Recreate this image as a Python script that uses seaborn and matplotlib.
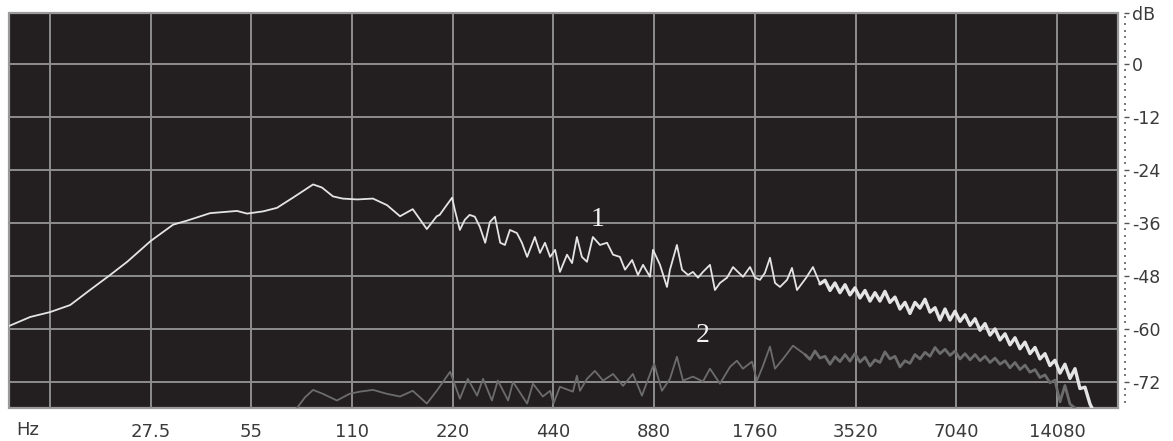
import matplotlib
matplotlib.use("Agg")
import matplotlib.pyplot as plt
import matplotlib.ticker as mticker
import pandas as pd
import seaborn as sns

# ---------------------------------------------------------------------------
# Spectrum data: frequency in Hz, level in dB
# ---------------------------------------------------------------------------
# Trace 1 – low/mid band
freq_1_low = [10.4, 12.0, 13.75, 15.8, 18.1, 20.8, 23.4, 27.5,
              32.1, 35.3, 41.4, 49.8, 53.4, 59.6, 65.6, 73.2,
              84.1, 89.4, 96.4, 103, 114, 127, 140, 153,
              167, 184, 197, 201, 209, 219, 223, 231,
              239, 247, 256, 265, 275, 284, 294, 305,
              315, 326, 342, 354, 367, 387, 401, 415,
              430, 445, 460, 483, 500, 517, 535, 554,
              577, 606, 636, 663, 695, 720, 756, 787,
              815, 855, 873, 916, 961, 981, 1029, 1066,
              1111, 1149, 1190, 1231, 1292, 1337, 1384, 1453,
              1514, 1566, 1622, 1702, 1761, 1823, 1886, 1953,
              2022, 2092, 2196, 2272, 2352, 2501, 2625, 2755]
level_1_low = [-59.3, -57.3, -56.2, -54.6, -51.2, -47.8, -44.8, -40.1,
               -36.4, -35.5, -33.8, -33.3, -33.9, -33.4, -32.6, -30.3,
               -27.3, -28.0, -30.0, -30.5, -30.7, -30.5, -32.0, -34.5,
               -32.9, -37.4, -34.5, -34.2, -32.4, -30.3, -33.0, -37.6,
               -35.3, -34.2, -34.6, -36.9, -40.5, -35.8, -34.6, -40.5,
               -41.0, -37.6, -38.3, -40.5, -43.7, -39.2, -42.8, -40.5,
               -43.7, -42.1, -47.1, -43.2, -45.1, -39.2, -43.7, -44.8,
               -39.2, -41.0, -40.5, -43.2, -43.7, -46.6, -44.4, -47.8,
               -45.5, -48.2, -42.1, -45.5, -50.5, -46.6, -41.0, -46.6,
               -47.8, -47.1, -48.4, -47.1, -45.5, -51.2, -49.6, -48.4,
               -46.0, -47.1, -48.2, -46.0, -48.4, -48.9, -47.3, -43.9,
               -49.6, -50.5, -48.9, -46.2, -51.2, -48.5, -46.0, -49.8]

# Trace 1 – high band
freq_1_high = [2755, 2852, 2952, 3054, 3161, 3274, 3386, 3505, 3629, 3756, 3887,
               4023, 4162, 4308, 4459, 4616, 4778, 4946, 5118, 5298, 5485,
               5676, 5875, 6082, 6293, 6515, 6742, 6978, 7224, 7477, 7740,
               8011, 8289, 8580, 8882, 9190, 9512, 9846, 10189, 10546, 10916,
               11297, 11693, 12104, 12522, 12963, 13413, 13883, 14376, 14873, 15397,
               15938, 16492, 17075, 17674, 17919]
level_1_high = [-49.8, -49.0, -51.3, -49.6, -51.8, -50.0, -52.3, -50.7, -53.0, -51.3, -53.7,
                -51.8, -53.7, -51.5, -54.0, -52.8, -55.5, -54.0, -56.5, -54.0, -55.3,
                -53.3, -56.2, -55.2, -58.0, -55.5, -58.0, -56.0, -58.3, -56.8, -59.2,
                -57.7, -60.3, -58.8, -61.4, -60.0, -62.5, -61.1, -63.6, -62.0, -64.5,
                -63.0, -65.6, -64.2, -66.8, -65.6, -68.3, -67.1, -70.0, -68.0, -71.2,
                -69.0, -73.5, -73.2, -77.0, -77.9]

# Trace 2 – low/mid band
freq_2_low = [75.3, 79.5, 84.1, 90.0, 99.1, 108, 116, 127,
              140, 153, 167, 184, 197, 216, 231, 244,
              260, 271, 288, 300, 322, 333, 367, 382,
              409, 430, 440, 460, 503, 517, 528, 554,
              585, 619, 663, 710, 760, 809, 867, 880,
              928, 981, 1029, 1073, 1149, 1231, 1292, 1384,
              1483, 1555, 1621, 1725, 1786, 1860, 1953, 2021,
              2136, 2288, 2486]
level_2_low = [-77.9, -75.5, -73.8, -74.7, -76.2, -74.7, -74.2, -73.8,
               -74.7, -75.3, -74.0, -76.9, -74.0, -69.7, -75.8, -71.3,
               -75.1, -71.3, -76.2, -71.7, -76.2, -72.0, -76.9, -72.4,
               -75.3, -74.0, -76.9, -73.1, -74.2, -70.6, -74.0, -71.3,
               -69.5, -71.7, -70.2, -72.9, -70.2, -75.1, -69.0, -67.9,
               -74.0, -71.3, -66.3, -71.7, -70.8, -71.9, -69.0, -72.4,
               -68.6, -67.2, -69.0, -67.4, -71.7, -68.4, -64.0, -69.0,
               -66.8, -63.8, -65.8]

# Trace 2 – high band
freq_2_high = [2486, 2572, 2662, 2754, 2852, 2952, 3054, 3161, 3274, 3386,
               3505, 3629, 3756, 3887, 4023, 4162, 4308, 4459, 4616, 4778,
               4946, 5118, 5298, 5485, 5676, 5875, 6082, 6293, 6515, 6742,
               6978, 7224, 7477, 7740, 8011, 8289, 8580, 8882, 9190, 9512,
               9846, 10189, 10546, 10916, 11297, 11693, 12104, 12522, 12963, 13413,
               13883, 14376, 14873, 15397, 15938]
level_2_high = [-65.8, -66.9, -65.0, -66.6, -66.2, -68.0, -66.3, -67.4, -65.8, -67.3,
                -65.6, -67.5, -66.4, -68.4, -67.0, -67.6, -65.2, -66.8, -66.2, -68.6,
                -67.2, -67.8, -65.8, -66.8, -65.3, -66.2, -64.2, -65.6, -64.6, -66.0,
                -65.0, -66.8, -65.6, -67.0, -65.8, -67.2, -66.2, -67.6, -66.6, -68.0,
                -67.2, -68.8, -67.6, -69.2, -68.2, -69.8, -69.2, -71.0, -70.4, -72.2,
                -71.6, -76.5, -72.8, -77.0, -77.9]

# Axis annotation
octave_freqs = [13.75, 27.5, 55, 110, 220, 440, 880, 1760, 3520, 7040, 14080]
octave_labels = ["", "27.5", "55", "110", "220", "440", "880", "1760",
                 "3520", "7040", "14080"]
db_ticks = [11.5, 0, -12, -24, -36, -48, -60, -72]
db_labels = ["dB", "0", "-12", "-24", "-36", "-48", "-60", "-72"]

# ---------------------------------------------------------------------------
traces = [
    (pd.DataFrame({"freq": freq_1_low, "level": level_1_low}), "#e4e4e4", 1.3, 3),
    (pd.DataFrame({"freq": freq_1_high, "level": level_1_high}), "#e4e4e4", 2.4, 3),
    (pd.DataFrame({"freq": freq_2_low, "level": level_2_low}), "#6c6c6c", 1.3, 4),
    (pd.DataFrame({"freq": freq_2_high, "level": level_2_high}), "#6c6c6c", 2.0, 4),
]

sns.set_style("dark")
plt.rcParams["font.family"] = ["DejaVu Sans"]
plt.rcParams["axes.unicode_minus"] = False

W, H = 1173, 441
fig = plt.figure(figsize=(W / 100, H / 100), dpi=100, facecolor="white")
ax = fig.add_axes([9 / W, 33 / H, 1109 / W, 395 / H])
ax.set_facecolor("#231f20")
ax.patch.set_edgecolor("#9a9a9a")
ax.patch.set_linewidth(1.6)

ax.set_xscale("log", base=2)
ax.set_xlim(10.37, 21430)
ax.set_ylim(-77.9, 11.5)

grid_kw = dict(color="#8e8e8e", linewidth=1.4, zorder=1)
for f in octave_freqs:
    ax.axvline(f, **grid_kw)
for d in db_ticks[1:]:
    ax.axhline(d, **grid_kw)

for df, color, lw, z in traces:
    sns.lineplot(data=df, x="freq", y="level", ax=ax, color=color,
                 linewidth=lw, estimator=None, sort=False, zorder=z)

ax.text(594, -35.3, "1", color="#f2f2f2", fontsize=20, ha="center",
        va="center", family=["Liberation Serif", "DejaVu Serif"], zorder=5)
ax.text(1231, -61.4, "2", color="#f2f2f2", fontsize=20, ha="center",
        va="center", family=["Liberation Serif", "DejaVu Serif"], zorder=5)

# Spines hidden; the ticks sit slightly away from the frame
for side, spine in ax.spines.items():
    spine.set_visible(False)
ax.spines["right"].set_position(("outward", 4.3))
ax.spines["bottom"].set_position(("outward", 3.0))

ax.yaxis.tick_right()
ax.yaxis.set_major_locator(mticker.FixedLocator(db_ticks))
ax.yaxis.set_major_formatter(mticker.FixedFormatter(db_labels))
ax.yaxis.set_minor_locator(mticker.MultipleLocator(1.5))
ax.tick_params(axis="y", which="major", direction="out", length=3.6, width=1.0,
               color="#555555", labelsize=12.5, labelcolor="#3a3a3a", pad=2,
               right=True, left=False)
ax.tick_params(axis="y", which="minor", direction="out", length=1.2, width=1.4,
               color="#777777", right=True, left=False)

minor_x = [f * m for f in [6.875] + octave_freqs for m in (1.25, 1.5, 1.75)]
ax.xaxis.set_major_locator(mticker.FixedLocator(octave_freqs))
ax.xaxis.set_major_formatter(mticker.FixedFormatter(octave_labels))
ax.xaxis.set_minor_locator(mticker.FixedLocator(minor_x))
ax.xaxis.set_minor_formatter(mticker.NullFormatter())
ax.tick_params(axis="x", which="major", direction="out", length=4.5, width=1.3,
               color="#444444", labelsize=13, labelcolor="#3a3a3a", pad=3)
ax.tick_params(axis="x", which="minor", direction="out", length=1.5, width=1.6,
               color="#555555")

ax.set_xlabel("")
ax.set_ylabel("")
ax.grid(False)

fig.text(28 / W, 1 - 430 / H, "Hz", ha="center", va="center",
         fontsize=13, color="#3a3a3a")

fig.savefig("out.png", dpi=100, facecolor="white")
